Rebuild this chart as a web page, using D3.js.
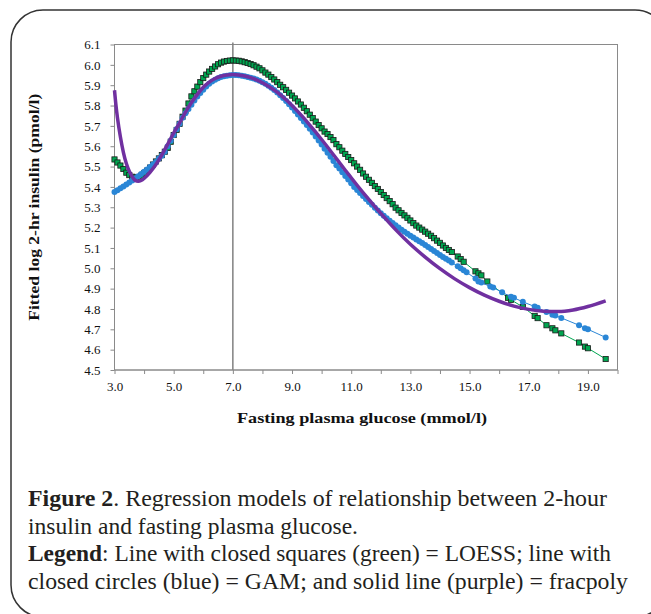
<!DOCTYPE html>
<html>
<head>
<meta charset="utf-8">
<script src="https://cdnjs.cloudflare.com/ajax/libs/d3/7.8.5/d3.min.js"></script>
<style>
  body { margin: 0; background: #fff; }
  svg { display: block; }
  .axis text { font-family: "Liberation Serif", "Times New Roman", serif; font-size: 13px; fill: #111; }
  .axis path, .axis line { stroke: #8a8a8a; }
  .title { font-family: "Liberation Serif", "Times New Roman", serif; font-weight: bold; font-size: 14px; fill: #111; }
  .caption { font-family: "Liberation Serif", "Times New Roman", serif; font-size: 22.5px; fill: #231f20; }
</style>
</head>
<body>
<svg id="chart" width="651" height="614"></svg>
<script>
// LOESS (green squares)
var loessX = [3.0,3.1,3.2,3.3,3.4,3.5,3.6,3.7,3.8,3.9,4.0,4.1,4.2,4.3,4.4,4.5,4.6,4.7,4.8,4.9,
  5.0,5.1,5.2,5.3,5.4,5.5,5.6,5.7,5.8,5.9,6.0,6.1,6.2,6.3,6.4,6.5,6.6,6.7,6.8,6.9,
  7.0,7.1,7.2,7.3,7.4,7.5,7.6,7.7,7.8,7.9,8.0,8.1,8.2,8.3,8.4,8.5,8.6,8.7,8.8,8.9,
  9.0,9.1,9.2,9.3,9.4,9.5,9.6,9.7,9.8,9.9,10.0,10.1,10.2,10.3,10.4,10.5,10.6,10.7,10.8,10.9,
  11.0,11.1,11.2,11.3,11.4,11.5,11.6,11.7,11.8,11.9,12.0,12.1,12.2,12.3,12.4,12.5,12.6,12.7,12.8,12.9,
  13.0,13.1,13.2,13.3,13.4,13.5,13.6,13.7,13.8,13.9,14.0,14.1,14.2,14.3,14.4,14.6,14.7,14.8,
  15.2,15.3,15.4,15.6,16.3,16.4,16.8,17.2,17.3,17.6,17.8,17.9,18.1,18.7,18.9,19.0,19.6];
var loessY = [5.535,5.52,5.505,5.488,5.47,5.458,5.45,5.445,5.447,5.455,5.467,5.48,5.495,5.51,5.525,5.54,5.556,5.573,5.592,5.622,
  5.655,5.68,5.71,5.745,5.775,5.81,5.845,5.87,5.893,5.915,5.935,5.952,5.967,5.98,5.992,6.003,6.011,6.016,6.019,6.021,
  6.022,6.021,6.02,6.017,6.013,6.009,6.004,5.998,5.991,5.983,5.973,5.962,5.952,5.94,5.928,5.915,5.902,5.89,5.877,5.863,
  5.849,5.835,5.82,5.805,5.789,5.772,5.755,5.738,5.721,5.704,5.688,5.672,5.66,5.645,5.63,5.61,5.595,5.578,5.562,5.547,
  5.532,5.516,5.5,5.484,5.466,5.45,5.435,5.42,5.404,5.39,5.375,5.36,5.345,5.33,5.315,5.298,5.285,5.272,5.26,5.248,
  5.235,5.222,5.21,5.2,5.19,5.18,5.17,5.16,5.148,5.136,5.125,5.112,5.1,5.09,5.08,5.058,5.045,5.032,
  4.985,4.975,4.965,4.935,4.855,4.845,4.81,4.766,4.755,4.72,4.705,4.695,4.68,4.635,4.615,4.607,4.554];

// GAM (blue circles)
var gamX = [3.0,3.1,3.2,3.3,3.4,3.5,3.6,3.7,3.8,3.9,4.0,4.1,4.2,4.3,4.4,4.5,4.6,4.7,4.8,4.9,
  5.0,5.1,5.2,5.3,5.4,5.5,5.6,5.7,5.8,5.9,6.0,6.1,6.2,6.3,6.4,6.5,6.6,6.7,6.8,6.9,
  7.0,7.1,7.2,7.3,7.4,7.5,7.6,7.7,7.8,7.9,8.0,8.1,8.2,8.3,8.4,8.5,8.6,8.7,8.8,8.9,
  9.0,9.1,9.2,9.3,9.4,9.5,9.6,9.7,9.8,9.9,10.0,10.1,10.2,10.3,10.4,10.5,10.6,10.7,10.8,10.9,
  11.0,11.1,11.2,11.3,11.4,11.5,11.6,11.7,11.8,11.9,12.0,12.1,12.2,12.3,12.4,12.5,12.6,12.7,12.8,12.9,
  13.0,13.1,13.2,13.3,13.4,13.5,13.6,13.7,13.8,13.9,14.0,14.1,14.2,14.3,14.4,14.6,14.7,14.8,14.9,
  15.2,15.3,15.4,15.7,15.8,16.1,16.4,16.5,16.8,17.2,17.3,17.6,17.8,17.9,18.1,18.7,18.9,19.0,19.6];
var gamY = [5.375,5.384,5.393,5.402,5.412,5.422,5.432,5.442,5.452,5.463,5.474,5.486,5.498,5.51,5.523,5.54,5.553,5.573,5.6,5.627,
  5.655,5.683,5.711,5.74,5.762,5.783,5.804,5.825,5.845,5.862,5.877,5.893,5.907,5.918,5.927,5.934,5.94,5.944,5.947,5.949,
  5.95,5.95,5.949,5.947,5.944,5.94,5.936,5.933,5.928,5.922,5.915,5.907,5.897,5.887,5.876,5.864,5.851,5.837,5.822,5.806,
  5.79,5.773,5.756,5.739,5.722,5.704,5.686,5.667,5.648,5.628,5.608,5.588,5.568,5.548,5.527,5.507,5.49,5.472,5.454,5.436,
  5.418,5.4,5.385,5.37,5.355,5.34,5.326,5.312,5.298,5.284,5.271,5.258,5.246,5.234,5.223,5.212,5.2,5.19,5.18,5.17,
  5.16,5.151,5.142,5.133,5.124,5.115,5.105,5.095,5.085,5.075,5.065,5.056,5.047,5.038,5.028,5.01,5.0,4.99,4.98,
  4.95,4.935,4.93,4.91,4.905,4.882,4.86,4.855,4.835,4.812,4.806,4.785,4.772,4.768,4.756,4.72,4.705,4.7,4.66];

// fracpoly (purple line)
var fpX = [3.0,3.05,3.1,3.2,3.3,3.4,3.5,3.6,3.7,3.8,3.9,4.0,4.2,4.4,4.6,4.8,5.0,5.2,5.4,5.6,5.8,6.0,
  6.2,6.4,6.6,6.8,7.0,7.2,7.4,7.6,7.8,8.0,8.2,8.4,8.6,8.8,9.0,9.2,9.4,9.6,9.8,10.0,10.2,10.4,10.6,10.8,
  11.0,11.2,11.4,11.6,11.8,12.0,12.5,13.0,13.5,14.0,14.5,15.0,15.5,16.0,16.5,17.0,17.5,18.0,18.5,19.0,19.6];
var fpY = [5.875,5.8,5.74,5.645,5.57,5.515,5.477,5.45,5.432,5.428,5.432,5.442,5.472,5.51,5.558,5.61,5.665,5.715,5.768,5.815,5.855,5.89,
  5.915,5.933,5.944,5.95,5.952,5.95,5.945,5.937,5.926,5.912,5.895,5.876,5.854,5.828,5.8,5.77,5.738,5.704,5.669,5.633,5.596,5.558,5.52,5.482,
  5.445,5.408,5.372,5.337,5.303,5.27,5.19,5.118,5.055,4.998,4.948,4.905,4.868,4.838,4.814,4.798,4.789,4.787,4.795,4.812,4.84];

var xTicks = [3,4,5,6,7,8,9,10,11,12,13,14,15,16,17,18,19,20];
var xTickLabels = ["3.0","","5.0","","7.0","","9.0","","11.0","","13.0","","15.0","","17.0","","19.0",""];
var yTicks = [4.5,4.6,4.7,4.8,4.9,5.0,5.1,5.2,5.3,5.4,5.5,5.6,5.7,5.8,5.9,6.0,6.1];
var markerLine = 7.0;

var captionLines = [
  [["Figure 2", true], [". Regression models of relationship between 2-hour", false]],
  [["insulin and fasting plasma glucose.", false]],
  [["Legend", true], [": Line with closed squares (green) = LOESS; line with", false]],
  [["closed circles (blue) = GAM; and solid line (purple) = fracpoly", false]]
];
var captionWidths = [579, 330, 583, 600];

var svg = d3.select("#chart");

// rounded frame around the whole figure
svg.append("rect")
  .attr("x", 11).attr("y", 10)
  .attr("width", 656).attr("height", 607)
  .attr("rx", 32).attr("ry", 32)
  .attr("fill", "none").attr("stroke", "#333").attr("stroke-width", 1.5);

var pLeft = 114.5, pTop = 44.5, pRight = 617.5, pBottom = 370;

var x = d3.scaleLinear().domain([3, 20]).range([pLeft, pRight]);
var y = d3.scaleLinear().domain([4.5, 6.1]).range([pBottom, pTop]);

var g = svg.append("g");

// plot border
g.append("rect")
  .attr("x", pLeft).attr("y", pTop)
  .attr("width", pRight - pLeft).attr("height", pBottom - pTop)
  .attr("fill", "none").attr("stroke", "#8a8a8a").attr("stroke-width", 1);

g.append("line")
  .attr("x1", x(markerLine)).attr("x2", x(markerLine))
  .attr("y1", pTop - 2).attr("y2", pBottom)
  .attr("stroke", "#808080").attr("stroke-width", 1.5);

g.append("g").attr("class", "axis")
  .attr("transform", "translate(" + pLeft + ",0)")
  .call(d3.axisLeft(y).tickValues(yTicks).tickSize(4).tickPadding(10).tickFormat(d3.format(".1f")))
  .call(function(a) { a.select(".domain").attr("d", "M0," + pTop + "V" + pBottom); });

g.append("g").attr("class", "axis")
  .attr("transform", "translate(0," + pBottom + ")")
  .call(d3.axisBottom(x).tickValues(xTicks).tickSize(4).tickPadding(8)
    .tickFormat(function(d, i) { return xTickLabels[i]; }))
  .call(function(a) { a.select(".domain").attr("d", "M" + pLeft + ",0H" + pRight); });

var loess = loessX.map(function(d, i) { return [d, loessY[i]]; });
var gam = gamX.map(function(d, i) { return [d, gamY[i]]; });
var fp = fpX.map(function(d, i) { return [d, fpY[i]]; });

var line = d3.line().x(function(d) { return x(d[0]); }).y(function(d) { return y(d[1]); });

// LOESS
g.append("path").datum(loess)
  .attr("d", line).attr("fill", "none")
  .attr("stroke", "#00a650").attr("stroke-width", 1);
g.selectAll(".sq").data(loess).enter().append("rect")
  .attr("class", "sq")
  .attr("x", function(d) { return x(d[0]) - 2.6; })
  .attr("y", function(d) { return y(d[1]) - 2.6; })
  .attr("width", 5.2).attr("height", 5.2)
  .attr("fill", "#00a650").attr("stroke", "#1a1a1a").attr("stroke-width", 0.8);

// GAM
g.append("path").datum(gam)
  .attr("d", line).attr("fill", "none")
  .attr("stroke", "#2a86d6").attr("stroke-width", 1);
g.selectAll(".ci").data(gam).enter().append("circle")
  .attr("class", "ci")
  .attr("cx", function(d) { return x(d[0]); })
  .attr("cy", function(d) { return y(d[1]); })
  .attr("r", 3)
  .attr("fill", "#2a86d6");

// fracpoly
g.append("path").datum(fp)
  .attr("d", d3.line().curve(d3.curveMonotoneX)
    .x(function(d) { return x(d[0]); }).y(function(d) { return y(d[1]); }))
  .attr("fill", "none")
  .attr("stroke", "#7030a0").attr("stroke-width", 3.5);

svg.append("text").attr("class", "title")
  .attr("x", (pLeft + pRight) / 2 - 4).attr("y", 423)
  .attr("text-anchor", "middle")
  .attr("textLength", 250).attr("lengthAdjust", "spacingAndGlyphs")
  .text("Fasting plasma glucose (mmol/l)");

svg.append("text").attr("class", "title")
  .attr("transform", "translate(39," + ((pTop + pBottom) / 2) + ") rotate(-90)")
  .attr("text-anchor", "middle")
  .attr("textLength", 227).attr("lengthAdjust", "spacingAndGlyphs")
  .text("Fitted log 2-hr insulin (pmol/l)");

captionLines.forEach(function(parts, i) {
  var t = svg.append("text").attr("class", "caption")
    .attr("x", 28).attr("y", 506 + i * 27.5)
    .attr("textLength", captionWidths[i]).attr("lengthAdjust", "spacingAndGlyphs");
  parts.forEach(function(p) {
    t.append("tspan").text(p[0]).attr("font-weight", p[1] ? "bold" : null);
  });
});
</script>
</body>
</html>
